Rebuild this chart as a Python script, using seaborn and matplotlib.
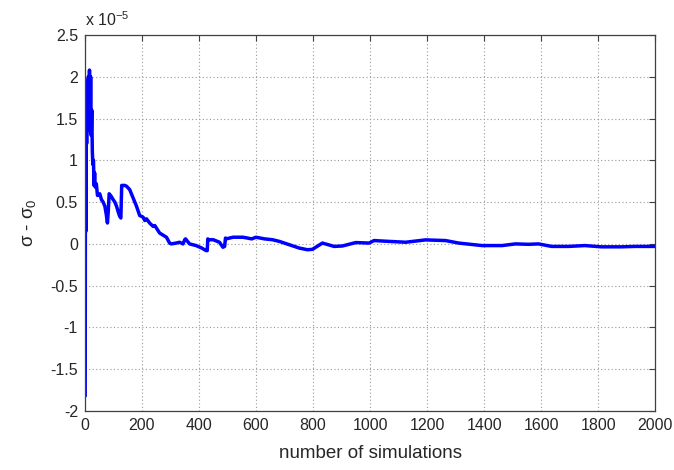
import matplotlib
matplotlib.use("Agg")
import matplotlib.pyplot as plt
import seaborn as sns
import pandas as pd

# Convergence of the estimated sigma towards sigma_0 (values in units of 1e-5)
simulations = [
    1, 2, 3, 4, 6, 8, 10, 12, 14, 16, 18, 20, 22, 24, 26, 28, 30, 32, 34, 36,
    40, 44, 52, 58, 64, 70, 75, 79, 82, 85, 92, 99, 105, 111, 117, 122, 126,
    129, 135, 140, 146, 157, 169, 181, 192, 198, 204, 210, 216, 227, 239, 245,
    262, 286, 297, 303, 320, 332, 344, 350, 353, 367, 390, 410, 425, 429, 431,
    433, 450, 472, 484, 490, 493, 495, 520, 542, 554, 570, 585, 600, 630, 658,
    682, 717, 752, 781, 798, 833, 874, 903, 950, 997, 1014, 1067, 1125, 1195,
    1265, 1311, 1393, 1463, 1510, 1556, 1591, 1637, 1696, 1754, 1812, 1882,
    1929, 1987, 2000,
]
sigma_diff = [
    -1.82, 1.70, 0.15, 1.88, 1.20, 1.95, 1.50, 2.00, 1.60, 2.08, 1.35, 2.00,
    1.30, 1.60, 1.10, 0.95, 1.00, 0.70, 0.85, 0.68, 0.72, 0.58, 0.60, 0.53,
    0.50, 0.45, 0.35, 0.25, 0.40, 0.60, 0.57, 0.53, 0.50, 0.45, 0.38, 0.33,
    0.31, 0.70, 0.70, 0.70, 0.69, 0.65, 0.55, 0.45, 0.34, 0.33, 0.32, 0.28,
    0.30, 0.25, 0.21, 0.22, 0.13, 0.08, 0.01, 0.00, 0.01, 0.02, 0.00, 0.05,
    0.06, 0.00, -0.02, -0.05, -0.08, -0.08, 0.06, 0.05, 0.05, 0.02, -0.04,
    -0.03, 0.07, 0.06, 0.08, 0.08, 0.08, 0.07, 0.06, 0.08, 0.06, 0.05, 0.03,
    -0.01, -0.05, -0.07, -0.065, 0.01, -0.03, -0.025, 0.016, 0.01, 0.04, 0.03,
    0.02, 0.048, 0.04, 0.01, -0.02, -0.02, 0.00, -0.005, 0.00, -0.03, -0.03,
    -0.02, -0.035, -0.035, -0.03, -0.03, -0.03,
]

x_ticks = list(range(0, 2001, 200))
y_ticks = [-2, -1.5, -1, -0.5, 0, 0.5, 1, 1.5, 2, 2.5]
y_tick_labels = ["-2", "-1.5", "-1", "-0.5", "0", "0.5", "1", "1.5", "2", "2.5"]

df = pd.DataFrame({"n": simulations, "d": sigma_diff})

sns.set_style("white")
plt.rcParams["font.family"] = ["Liberation Sans", "DejaVu Sans"]
plt.rcParams["mathtext.fontset"] = "custom"
plt.rcParams["mathtext.rm"] = "Liberation Sans"

fig = plt.figure(figsize=(6.74, 4.70), dpi=100)
ax = fig.add_axes([0.126, 0.1255, 0.846, 0.80])

sns.lineplot(data=df, x="n", y="d", ax=ax, color="#0000ff", linewidth=2.5,
             estimator=None, sort=False)

ax.set_xlim(0, 2000)
ax.set_ylim(-2, 2.5)
ax.set_xticks(x_ticks)
ax.set_yticks(y_ticks)
ax.set_yticklabels(y_tick_labels)
ax.grid(True, linestyle=(0, (1, 2.2)), color="#9a9a9a", linewidth=0.8)

for spine in ax.spines.values():
    spine.set_visible(True)
    spine.set_color("#404040")
    spine.set_linewidth(0.9)

ax.tick_params(axis="both", which="both", direction="in", length=4,
               top=True, right=True, color="#404040", labelsize=11.5,
               pad=5)

ax.set_xlabel("number of simulations", fontsize=13.5, labelpad=9)
ax.set_ylabel("σ - σ$_\\mathregular{0}$", fontsize=13.5, labelpad=8)

ax.text(0.0, 1.015, "x 10$^\\mathregular{-5}$", transform=ax.transAxes,
        fontsize=11.5, ha="left", va="bottom")

fig.savefig("out.png", dpi=100, facecolor="white")
